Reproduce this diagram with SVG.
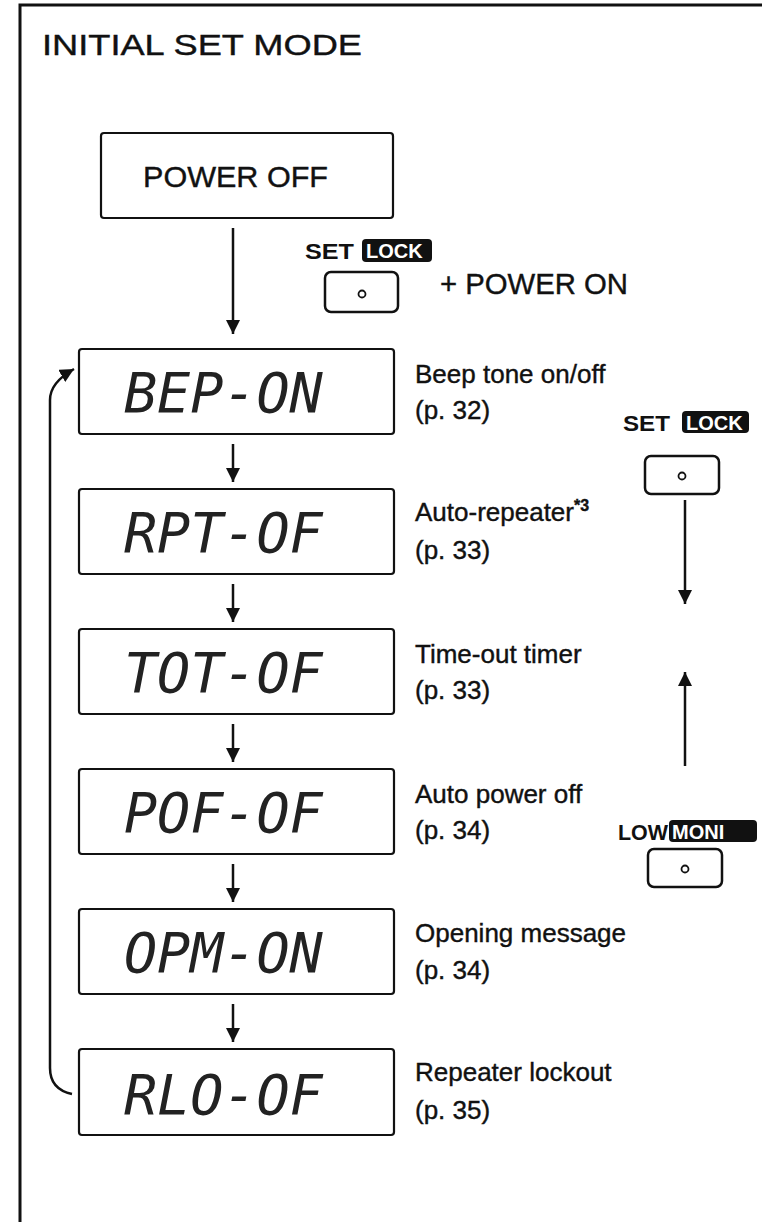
<svg xmlns="http://www.w3.org/2000/svg" width="762" height="1222" viewBox="0 0 762 1222">
<style>
.frame{fill:none;stroke:#111;stroke-width:3}
.box{fill:#fff;stroke:#111;stroke-width:2.2}
.btn{fill:#fff;stroke:#111;stroke-width:2.5}
.dot{fill:none;stroke:#111;stroke-width:1.8}
.lbl{font-family:"Liberation Sans",Arial,sans-serif;font-size:26px;fill:#111;stroke:#111;stroke-width:0.4}
.big{font-family:"Liberation Sans",Arial,sans-serif;font-size:30px;fill:#111;stroke:#111;stroke-width:0.4}
.key{font-family:"Liberation Sans",Arial,sans-serif;font-size:22px;font-weight:bold;fill:#111}
.keyw{font-family:"Liberation Sans",Arial,sans-serif;font-size:20px;font-weight:bold;fill:#fff}
.tag{fill:#111}
.lcd{font-family:"DejaVu Sans Mono","Liberation Mono",monospace;font-size:55px;font-style:italic;fill:#222}
.conn{fill:none;stroke:#111;stroke-width:2.5}
</style>
<defs>
<marker id="ah" viewBox="0 0 14 14" refX="14" refY="7" markerWidth="14" markerHeight="14" markerUnits="userSpaceOnUse" orient="auto">
<path d="M0,0 L14,7 L0,14 Z" fill="#111"/>
</marker>
</defs>
<rect width="762" height="1222" fill="#fff"/>
<path class="frame" d="M20,1222 L20,5 L762,5"/>
<text class="big" x="42" y="55" font-size="39" textLength="320" lengthAdjust="spacingAndGlyphs">INITIAL SET MODE</text>

<g id="power-off">
<rect class="box" x="101" y="133" width="292" height="85" rx="3"/>
<text class="big" x="143" y="187" font-size="31" textLength="185" lengthAdjust="spacingAndGlyphs">POWER OFF</text>
</g>

<g id="key-set-top">
<text class="key" x="305" y="259" textLength="49" lengthAdjust="spacingAndGlyphs">SET</text>
<rect class="tag" x="362" y="239" width="70" height="23" rx="4"/>
<text class="keyw" x="366" y="258">LOCK</text>
<rect class="btn" x="325" y="272" width="73" height="40" rx="6"/>
<circle class="dot" cx="362" cy="294" r="3.5"/>
<text class="big" x="440" y="294" font-size="26" textLength="188" lengthAdjust="spacingAndGlyphs">+ POWER ON</text>
</g>

<g id="bep">
<rect class="box" x="79" y="349" width="315" height="85" rx="3"/>
<text class="lcd" x="124" y="412">BEP-ON</text>
<text class="lbl" x="415" y="383">Beep tone on/off</text>
<text class="lbl" x="415" y="419">(p. 32)</text>
</g>
<g id="rpt">
<rect class="box" x="79" y="489" width="315" height="85" rx="3"/>
<text class="lcd" x="124" y="552">RPT-OF</text>
<text class="lbl" x="415" y="521">Auto-repeater<tspan font-size="16" font-weight="bold" dy="-10">*3</tspan></text>
<text class="lbl" x="415" y="559">(p. 33)</text>
</g>
<g id="tot">
<rect class="box" x="79" y="629" width="315" height="85" rx="3"/>
<text class="lcd" x="124" y="692">TOT-OF</text>
<text class="lbl" x="415" y="663">Time-out timer</text>
<text class="lbl" x="415" y="699">(p. 33)</text>
</g>
<g id="pof">
<rect class="box" x="79" y="769" width="315" height="85" rx="3"/>
<text class="lcd" x="124" y="832">POF-OF</text>
<text class="lbl" x="415" y="803">Auto power off</text>
<text class="lbl" x="415" y="839">(p. 34)</text>
</g>
<g id="opm">
<rect class="box" x="79" y="909" width="315" height="85" rx="3"/>
<text class="lcd" x="124" y="972">OPM-ON</text>
<text class="lbl" x="415" y="942">Opening message</text>
<text class="lbl" x="415" y="979">(p. 34)</text>
</g>
<g id="rlo">
<rect class="box" x="79" y="1049" width="315" height="86" rx="3"/>
<text class="lcd" x="124" y="1114">RLO-OF</text>
<text class="lbl" x="415" y="1081">Repeater lockout</text>
<text class="lbl" x="415" y="1119">(p. 35)</text>
</g>

<g id="key-set-right">
<text class="key" x="623" y="431" textLength="47" lengthAdjust="spacingAndGlyphs">SET</text>
<rect class="tag" x="682" y="411" width="67" height="22" rx="4"/>
<text class="keyw" x="686" y="430">LOCK</text>
<rect class="btn" x="645" y="456" width="74" height="38" rx="6"/>
<circle class="dot" cx="682" cy="476" r="3.5"/>
</g>
<g id="key-low-right">
<text class="key" x="618" y="840" textLength="50" lengthAdjust="spacingAndGlyphs">LOW</text>
<rect class="tag" x="669" y="820" width="88" height="22" rx="4"/>
<text class="keyw" x="672" y="839">MONI</text>
<rect class="btn" x="648" y="849" width="74" height="38" rx="6"/>
<circle class="dot" cx="685" cy="869" r="3.5"/>
</g>

<g id="connectors">
<line class="conn" x1="233" y1="228" x2="233" y2="334" marker-end="url(#ah)"/>
<line class="conn" x1="233" y1="444" x2="233" y2="482" marker-end="url(#ah)"/>
<line class="conn" x1="233" y1="584" x2="233" y2="622" marker-end="url(#ah)"/>
<line class="conn" x1="233" y1="724" x2="233" y2="762" marker-end="url(#ah)"/>
<line class="conn" x1="233" y1="864" x2="233" y2="902" marker-end="url(#ah)"/>
<line class="conn" x1="233" y1="1004" x2="233" y2="1042" marker-end="url(#ah)"/>
<path class="conn" d="M72,1094 C58,1091 50,1082 50,1068 L50,400 C50,388 58,378 74,369" marker-end="url(#ah)"/>
<line class="conn" x1="685" y1="500" x2="685" y2="604" marker-end="url(#ah)"/>
<line class="conn" x1="685" y1="766" x2="685" y2="672" marker-end="url(#ah)"/>
</g>
</svg>
